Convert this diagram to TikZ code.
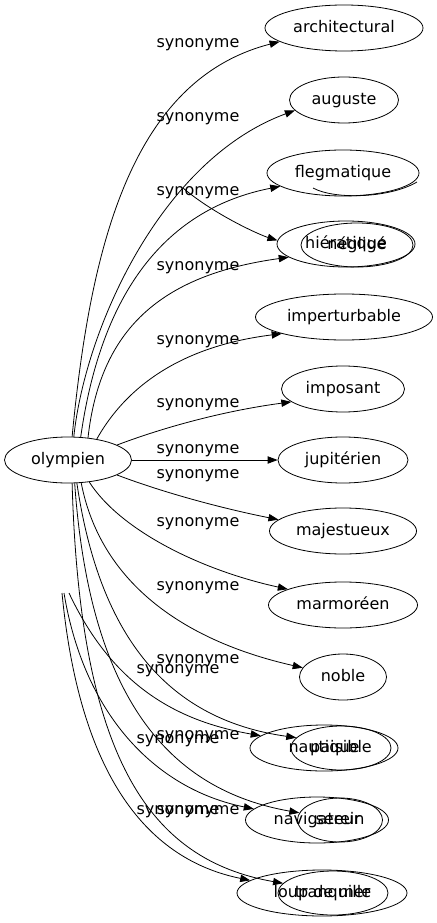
\documentclass[tikz,border=0pt]{standalone}
\usepackage{fontspec}
\setmainfont{DejaVu Sans}
\usepackage{tikz}
\usetikzlibrary{arrows.meta,shapes.geometric}

\begin{document}
\begin{tikzpicture}[x=0.75pt, y=-0.75pt,
		mot/.style={draw, ellipse, inner sep=0pt, line width=0.6pt, minimum height=34.5pt, text height=9pt, text depth=2.5pt, font=\fontsize{12}{14}\selectfont},
		lien/.style={-{Triangle[length=7.5pt,width=5.5pt]}, line width=0.6pt},
		syn/.style={inner sep=0pt, font=\fontsize{12}{14}\selectfont}]
		\useasboundingbox (0,0) rectangle (436,923);
		% noeuds
		\node[mot, minimum width=95.25pt] (olympien) at (68,460) {olympien};
		\node[mot, minimum width=118.5pt] (architectural) at (344,28) {architectural};
		\node[mot, minimum width=81.75pt] (auguste) at (344,100) {auguste};
		\node[mot, minimum width=114pt] (flegmatique) at (343,173) {flegmatique};
		\node[mot, minimum width=103.5pt] (hieratique) at (346,244) {hiératique};
		\node[mot, minimum width=84pt, minimum height=33pt] (neglige) at (357,245) {négligé};
		\node[mot, minimum width=132.75pt] (imperturbable) at (344,317) {imperturbable};
		\node[mot, minimum width=92.25pt] (imposant) at (343,389) {imposant};
		\node[mot, minimum width=97.5pt] (jupiterien) at (343,460) {jupitérien};
		\node[mot, minimum width=110.25pt] (majestueux) at (343,531) {majestueux};
		\node[mot, minimum width=111.75pt] (marmoreen) at (343,605) {marmoréen};
		\node[mot, minimum width=65.25pt] (noble) at (343,677) {noble};
		\node[mot, minimum width=111pt] (nautique) at (324,748) {nautique};
		\node[mot, minimum width=75pt, minimum height=33pt] (paisible) at (341,748) {paisible};
		\node[mot, minimum width=107.25pt] (navigateur) at (317,820) {navigateur};
		\node[mot, minimum width=63.75pt, minimum height=33pt] (serein) at (340,820) {serein};
		\node[mot, minimum width=127.5pt] (loup) at (322,893) {loup de mer};
		\node[mot, minimum width=82.5pt, minimum height=33pt] (tranquille) at (333,893) {tranquille};
		% bouts libres
		\coordinate (g0) at (183,188);
		\coordinate (g1) at (69,593);
		\coordinate (g2) at (64,593);
		\coordinate (g3) at (62,593);
		\draw[line width=0.6pt] (313,188) .. controls (335,200) and (390,198) .. (417,182);
		% aretes
		\draw[lien] (olympien.80) .. controls (90,250) and (130,80) .. (architectural.192);
		\draw[lien] (olympien.76) .. controls (85,330) and (160,160) .. (auguste.192);
		\draw[lien] (olympien.61) .. controls (100,300) and (160,210) .. (flegmatique.192);
		\draw[lien] (olympien.48) .. controls (100,330) and (160,275) .. (hieratique.193);
		\draw[lien] (olympien.36) .. controls (130,380) and (190,345) .. (imperturbable.195);
		\draw[lien] (olympien.17) .. controls (170,425) and (230,410) .. (imposant.194);
		\draw[lien] (olympien.east) -- (jupiterien.west);
		\draw[lien] (olympien.-17) .. controls (170,495) and (230,510) .. (majestueux.170);
		\draw[lien] (olympien.-46) .. controls (120,530) and (200,570) .. (marmoreen.164);
		\draw[lien] (olympien.-60) .. controls (100,580) and (180,640) .. (noble.167);
		\draw[lien] (olympien.-69) .. controls (100,640) and (170,720) .. (paisible.167);
		\draw[lien] (olympien.-74) .. controls (90,700) and (170,790) .. (serein.170);
		\draw[lien] (olympien.-80) .. controls (80,760) and (150,860) .. (tranquille.169);
		\draw[lien] (g0) .. controls (215,215) and (260,235) .. (hieratique.177);
		\draw[lien] (g1) .. controls (110,680) and (170,720) .. (nautique.169);
		\draw[lien] (g2) .. controls (85,720) and (160,790) .. (navigateur.170);
		\draw[lien] (g3) .. controls (80,780) and (150,860) .. (loup.170);
		% etiquettes
		\node[syn] (s1) at (198,45) {synonyme};
		\node[syn] (s2) at (198,119) {synonyme};
		\node[syn] (s3) at (198,193) {synonyme};
		\node[syn] (s4) at (198,268) {synonyme};
		\node[syn] (s5) at (198,342) {synonyme};
		\node[syn] (s6) at (198,405) {synonyme};
		\node[syn] (s7) at (198,451) {synonyme};
		\node[syn] (s8) at (198,476) {synonyme};
		\node[syn] (s9) at (198,524) {synonyme};
		\node[syn] (s10) at (198,588) {synonyme};
		\node[syn] (s11) at (198,661) {synonyme};
		\node[syn] (s12) at (178,671) {synonyme};
		\node[syn] (s13) at (198,737) {synonyme};
		\node[syn] (s14) at (178,741) {synonyme};
		\node[syn] (s15) at (198,812) {synonyme};
		\node[syn] (s16) at (178,812) {synonyme};
	\end{tikzpicture}
\end{document}
